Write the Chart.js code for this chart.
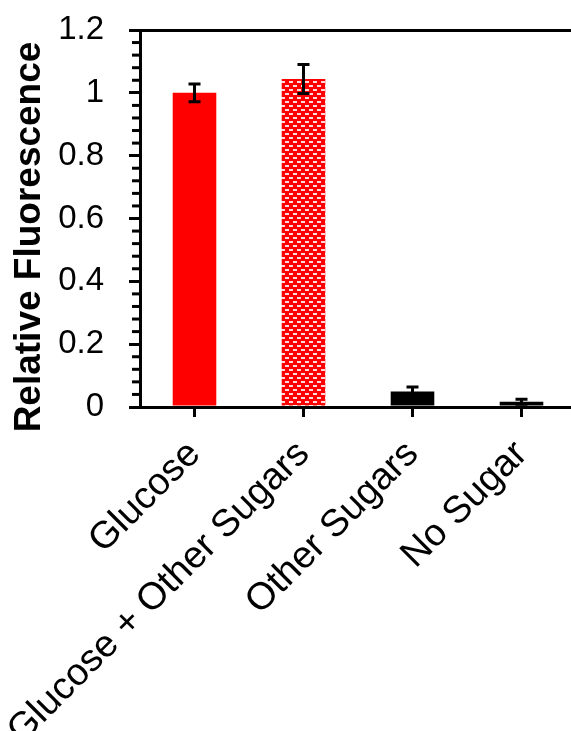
<!DOCTYPE html>
<html>
<head>
<meta charset="utf-8">
<script src="https://cdn.jsdelivr.net/npm/chart.js@4.4.1/dist/chart.umd.min.js"></script>
<style>
  html, body { margin: 0; padding: 0; background: #fff; overflow: hidden; }
  canvas { display: block; }
</style>
</head>
<body>
<canvas id="chart" width="590" height="731"></canvas>
<script>
const categories = ['Glucose', 'Glucose + Other Sugars', 'Other Sugars', 'No Sugar'];
const fluorescence = [1.0, 1.044, 0.049, 0.017];
const errors = [0.028, 0.046, 0.015, 0.008];
const yTicks = [0, 0.2, 0.4, 0.6, 0.8, 1, 1.2];
const minorStep = 0.04;

Chart.defaults.font.family = "'Liberation Sans', Arial, sans-serif";
Chart.defaults.color = '#000';

const canvas = document.getElementById('chart');
const ctx = canvas.getContext('2d');

// red with white dashes, like the hatched bar
function makePattern() {
  const c = document.createElement('canvas');
  c.width = 8; c.height = 8;
  const g = c.getContext('2d');
  g.fillStyle = '#ff0000';
  g.fillRect(0, 0, 8, 8);
  g.fillStyle = 'rgba(255,255,255,0.85)';
  g.fillRect(1, 1, 4, 2);
  g.fillRect(5, 5, 3, 2);
  g.fillRect(0, 5, 1, 2);
  return ctx.createPattern(c, 'repeat');
}

const errorBars = {
  id: 'errorBars',
  afterDatasetsDraw(chart) {
    const { ctx, scales: { y } } = chart;
    const meta = chart.getDatasetMeta(0);
    ctx.save();
    ctx.strokeStyle = '#000';
    ctx.lineWidth = 3;
    meta.data.forEach((bar, i) => {
      const top = y.getPixelForValue(fluorescence[i] + errors[i]);
      const bot = y.getPixelForValue(fluorescence[i] - errors[i]);
      ctx.beginPath();
      ctx.moveTo(bar.x, top); ctx.lineTo(bar.x, bot);
      ctx.moveTo(bar.x - 6, top); ctx.lineTo(bar.x + 6, top);
      ctx.moveTo(bar.x - 6, bot); ctx.lineTo(bar.x + 6, bot);
      ctx.stroke();
    });
    ctx.restore();
  }
};

const minorTicks = {
  id: 'minorTicks',
  afterDraw(chart) {
    const { ctx, scales: { y }, chartArea } = chart;
    ctx.save();
    ctx.strokeStyle = '#000';
    ctx.lineWidth = 3;
    const n = Math.round(y.max / minorStep);
    for (let i = 0; i <= n; i++) {
      if (i % 5 === 0) continue;
      const py = y.getPixelForValue(i * minorStep);
      ctx.beginPath();
      ctx.moveTo(chartArea.left - 8, py);
      ctx.lineTo(chartArea.left, py);
      ctx.stroke();
    }
    ctx.restore();
  }
};

new Chart(ctx, {
  type: 'bar',
  data: {
    labels: categories,
    datasets: [{
      data: fluorescence,
      backgroundColor: ['#ff0000', makePattern(), '#000000', '#000000'],
      borderWidth: 0,
      barPercentage: 0.4,
      categoryPercentage: 1.0
    }]
  },
  options: {
    responsive: false,
    animation: false,
    layout: { padding: { top: 30, right: 14, left: 0, bottom: 0 } },
    plugins: {
      legend: { display: false },
      tooltip: { enabled: false }
    },
    scales: {
      x: {
        z: 1,
        afterFit: s => { s.height = 324; },
        border: { color: '#000', width: 3 },
        grid: { offset: false, drawOnChartArea: false, tickLength: 10, tickColor: '#000', tickWidth: 3, color: '#000' },
        ticks: { color: '#000', font: { size: 38 }, maxRotation: 45, minRotation: 45, autoSkip: false, padding: 15 }
      },
      y: {
        z: 1,
        min: 0,
        max: 1.2,
        afterBuildTicks: s => { s.ticks = yTicks.map(v => ({ value: v })); },
        afterFit: s => { s.width = 140; s.paddingTop = 0; s.paddingBottom = 0; },
        border: { color: '#000', width: 3 },
        grid: {
          drawOnChartArea: true,
          color: c => (c.tick && c.tick.value === 1.2 ? '#000' : 'rgba(0,0,0,0)'),
          lineWidth: 3,
          tickLength: 11,
          tickColor: '#000',
          tickWidth: 3
        },
        ticks: { color: '#000', font: { size: 33 }, padding: 25, callback: v => String(v) },
        title: {
          display: true,
          text: 'Relative Fluorescence\u2002\u2002',
          color: '#000',
          font: { size: 37, weight: 'bold' },
          padding: { top: 8 }
        }
      }
    }
  },
  plugins: [errorBars, minorTicks]
});
</script>
</body>
</html>
